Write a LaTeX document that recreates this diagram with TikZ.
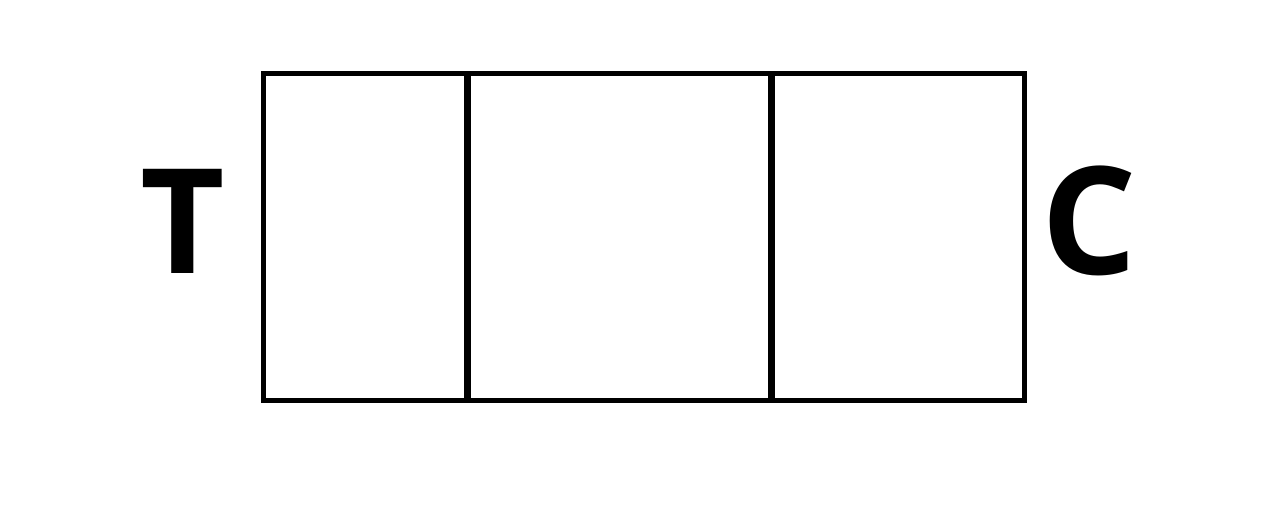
\documentclass[tikz,border=0pt]{standalone}
\usepackage{fontspec}
\setmainfont{Open Sans}
\usepackage{tikz}

\begin{document}
\begin{tikzpicture}[x=0.5pt, y=-0.5pt]
      \useasboundingbox (0,0) rectangle (1266,531);
      \node[draw, line width=2.5pt, minimum width=380.5pt, minimum height=163.5pt, inner sep=0pt] (box) at (644,237) {};
      \draw[line width=3.5pt] (467,73) coordinate (d1top) -- (467,401) coordinate (d1bot);
      \draw[line width=3.5pt] (771,73) coordinate (d2top) -- (771,401) coordinate (d2bot);
      \node[font=\fontsize{73}{80}\selectfont\bfseries, inner sep=0pt] (tlabel) at (183,221) {T};
      \node[font=\fontsize{75}{80}\selectfont\bfseries, inner sep=0pt] (clabel) at (1089,221) {C};
  \end{tikzpicture}
\end{document}
